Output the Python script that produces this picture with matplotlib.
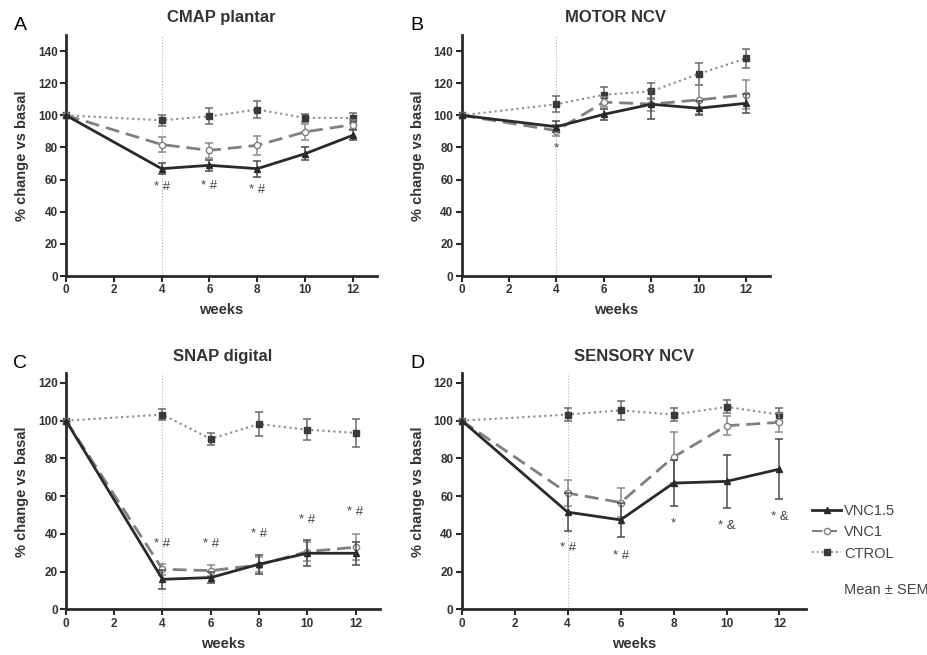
import matplotlib.pyplot as plt
from matplotlib.lines import Line2D

plt.rcParams['font.family'] = ['Liberation Sans', 'DejaVu Sans']

weeks = [0, 4, 6, 8, 10, 12]

# A - CMAP plantar
cmap_vnc15 = [100, 66.8, 68.9, 66.8, 76.1, 87.6]
cmap_vnc15_err = [0, 3.5, 3.5, 5, 4, 3]
cmap_vnc1 = [100, 81.8, 78.2, 81.3, 89.7, 94.2]
cmap_vnc1_err = [0, 4.5, 4.5, 6, 5, 3]
cmap_ctrl = [100, 96.9, 99.4, 103.6, 98.4, 98.4]
cmap_ctrl_err = [0, 3.5, 5, 5.5, 2.5, 3]
cmap_sig = ['* #', '* #', '* #']
cmap_sig_x = [4, 6, 8]
cmap_sig_y = [55.5, 56, 53.5]

# B - MOTOR NCV
motor_vnc15 = [100, 92.9, 100.6, 106.9, 104.4, 107.5]
motor_vnc15_err = [0, 3.5, 3.5, 9, 4.5, 6]
motor_vnc1 = [100, 90.5, 108.2, 107, 109.6, 112.8]
motor_vnc1_err = [0, 3.5, 3, 4, 9, 9]
motor_ctrl = [100, 106.9, 112.8, 114.9, 125.8, 135.4]
motor_ctrl_err = [0, 5, 5, 5, 7, 6]
motor_sig = ['*']
motor_sig_x = [4]
motor_sig_y = [79.5]

# C - SNAP digital
snap_vnc15 = [100, 15.9, 16.8, 23.9, 29.7, 29.7]
snap_vnc15_err = [0, 5, 3, 5, 7, 6]
snap_vnc1 = [100, 21.2, 20.5, 23.5, 30.6, 32.9]
snap_vnc1_err = [0, 3, 3, 4, 5, 7]
snap_ctrl = [100, 103.2, 90.3, 98.2, 95.2, 93.5]
snap_ctrl_err = [0, 3, 3, 6.5, 5.5, 7.5]
snap_sig = ['* #', '* #', '* #', '* #', '* #']
snap_sig_x = [4, 6, 8, 10, 12]
snap_sig_y = [34.5, 34.7, 40, 47.4, 51.5]

# D - SENSORY NCV
sens_vnc15 = [100, 51.5, 47.4, 66.9, 67.8, 74.3]
sens_vnc15_err = [0, 10, 9, 12, 14, 16]
sens_vnc1 = [100, 61.6, 56.6, 80.7, 97.3, 99.1]
sens_vnc1_err = [0, 7, 7.5, 13.5, 5, 5]
sens_ctrl = [100, 103.2, 105.5, 103.2, 107.3, 103.2]
sens_ctrl_err = [0, 3.5, 5, 3.5, 3.5, 3.5]
sens_sig = ['* #', '* #', '*', '* &', '* &']
sens_sig_x = [4, 6, 8, 10, 12]
sens_sig_y = [32.4, 28, 45.7, 44.2, 48.8]

dark = '#2a2a2a'
grey = '#808080'

fig = plt.figure(figsize=(9.28, 6.55), dpi=100)

ax_a = fig.add_axes([0.0711, 0.5786, 0.335, 0.368])
ax_b = fig.add_axes([0.4975, 0.5786, 0.332, 0.368])
ax_c = fig.add_axes([0.0711, 0.0698, 0.338, 0.360])
ax_d = fig.add_axes([0.4975, 0.0698, 0.371, 0.360])


def panel(ax, title, vnc15, vnc15_err, vnc1, vnc1_err, ctrl, ctrl_err,
          sig, sig_x, sig_y, ymax, ytop):
    ax.axvline(4, color='#b0b0b0', lw=0.8, ls=':', zorder=0)
    ax.errorbar(weeks, ctrl, yerr=ctrl_err, color='#8a8a8a', ls=':', lw=1.5,
                marker='s', ms=4.5, mfc='#3a3a3a', mec='#3a3a3a',
                ecolor='#6a6a6a', elinewidth=1.1, capsize=3, capthick=1.1,
                clip_on=False, zorder=3)
    ax.errorbar(weeks, vnc1, yerr=vnc1_err, color=grey, ls=(0, (5, 2.5)), lw=2,
                marker='o', ms=4.5, mfc='white', mec=grey,
                ecolor='#8a8a8a', elinewidth=1.1, capsize=3, capthick=1.1,
                clip_on=False, zorder=4)
    ax.errorbar(weeks, vnc15, yerr=vnc15_err, color=dark, ls='-', lw=2,
                marker='^', ms=5, mfc=dark, mec=dark,
                ecolor='#4a4a4a', elinewidth=1.1, capsize=3, capthick=1.1,
                clip_on=False, zorder=5)
    for t, x, y in zip(sig, sig_x, sig_y):
        ax.text(x, y, t, ha='center', va='center', fontsize=9.5, color='#444444')

    ax.set_xlim(0, 13)
    ax.set_ylim(0, ytop)
    ax.set_xticks(range(0, 13, 2))
    ax.set_yticks(range(0, ymax + 1, 20))
    for s in ['top', 'right']:
        ax.spines[s].set_visible(False)
    for s in ['left', 'bottom']:
        ax.spines[s].set_linewidth(2)
        ax.spines[s].set_color(dark)
    ax.tick_params(width=1.5, length=4, color=dark, labelsize=8.5,
                   labelcolor='#333333', pad=2)
    for lab in ax.get_xticklabels() + ax.get_yticklabels():
        lab.set_fontweight('bold')
    ax.set_xlabel('weeks', fontsize=10.5, fontweight='bold', color='#333333',
                  labelpad=5)
    ax.set_ylabel('% change vs basal', fontsize=10.5, fontweight='bold',
                  color='#333333', labelpad=6)
    ax.set_title(title, fontsize=12, fontweight='bold', color='#333333', pad=9)


panel(ax_a, 'CMAP plantar', cmap_vnc15, cmap_vnc15_err, cmap_vnc1,
      cmap_vnc1_err, cmap_ctrl, cmap_ctrl_err, cmap_sig, cmap_sig_x, cmap_sig_y,
      140, 150)
panel(ax_b, 'MOTOR NCV', motor_vnc15, motor_vnc15_err, motor_vnc1,
      motor_vnc1_err, motor_ctrl, motor_ctrl_err, motor_sig, motor_sig_x,
      motor_sig_y, 140, 150)
panel(ax_c, 'SNAP digital', snap_vnc15, snap_vnc15_err, snap_vnc1,
      snap_vnc1_err, snap_ctrl, snap_ctrl_err, snap_sig, snap_sig_x, snap_sig_y,
      120, 125)
panel(ax_d, 'SENSORY NCV', sens_vnc15, sens_vnc15_err, sens_vnc1,
      sens_vnc1_err, sens_ctrl, sens_ctrl_err, sens_sig, sens_sig_x, sens_sig_y,
      120, 125)

# panel letters
fig.text(20 / 928, 1 - 25 / 655, 'A', fontsize=14, va='center', ha='center')
fig.text(417 / 928, 1 - 25 / 655, 'B', fontsize=14, va='center', ha='center')
fig.text(20 / 928, 1 - 363 / 655, 'C', fontsize=14, va='center', ha='center')
fig.text(417 / 928, 1 - 363 / 655, 'D', fontsize=14, va='center', ha='center')

handles = [
    Line2D([], [], color=dark, lw=2, marker='^', ms=5, mfc=dark, mec=dark),
    Line2D([], [], color=grey, lw=1.5, ls=(0, (5, 2)), marker='o', ms=4.5,
           mfc='white', mec=grey),
    Line2D([], [], color='#8a8a8a', lw=1.3, ls=':', marker='s', ms=4.5,
           mfc='#3a3a3a', mec='#3a3a3a'),
]
leg = fig.legend(handles, ['VNC1.5', 'VNC1', 'CTROL'],
                 loc='upper left', bbox_to_anchor=(812 / 928, 1 - 504 / 655),
                 frameon=False, fontsize=10.5, handlelength=2.0,
                 handletextpad=0.2, labelspacing=0.5, borderpad=0,
                 borderaxespad=0)
for t in leg.get_texts():
    t.set_color('#444444')
fig.text(844 / 928, 1 - 590 / 655, 'Mean \u00b1 SEM', fontsize=10.5,
         color='#444444', va='center')

plt.savefig('out.png', dpi=100)
